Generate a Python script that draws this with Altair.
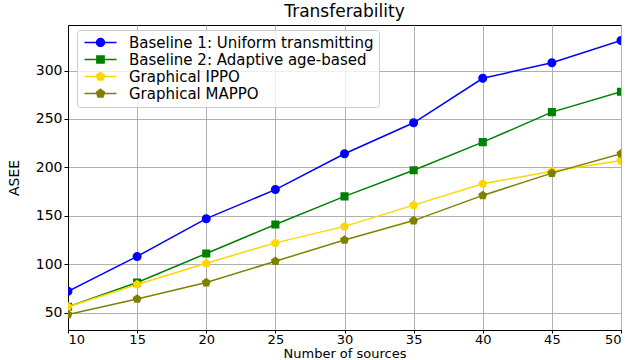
import altair as alt
import pandas as pd

sources = [10, 15, 20, 25, 30, 35, 40, 45, 50]
baseline1 = [72, 108, 147, 177, 214, 246, 292, 308, 331]
baseline2 = [56, 81, 111, 141, 170, 197, 226, 257, 278]
ippo = [56, 79, 101, 122, 139, 161, 183, 196, 207]
mappo = [48, 64, 81, 103, 125, 145, 171, 194, 214]

series_names = [
    "Baseline 1: Uniform transmitting",
    "Baseline 2: Adaptive age-based",
    "Graphical IPPO",
    "Graphical MAPPO",
]
series_values = [baseline1, baseline2, ippo, mappo]
colors = ["#0000ff", "#008000", "#ffd700", "#808000"]

circle = "M-4,0H4M1,0A1,1,0,1,1,-1,0A1,1,0,1,1,1,0Z"
square = "M-4,0H4M-0.9,-0.9H0.9V0.9H-0.9Z"
pentagon = "M-4,0H4M0,-1.05L1.0,-0.32L0.62,0.85L-0.62,0.85L-1.0,-0.32Z"
shapes = [circle, square, pentagon, pentagon]

rows = []
for name, vals in zip(series_names, series_values):
    for s, v in zip(sources, vals):
        rows.append({"sources": s, "ASEE": v, "series": name})
df = pd.DataFrame(rows)

FONT = "DejaVu Sans"

x = alt.X("sources:Q", title="Number of sources",
          scale=alt.Scale(domain=[10, 50], nice=False, zero=False),
          axis=alt.Axis(values=sources, format="d"))
y = alt.Y("ASEE:Q", title="ASEE",
          scale=alt.Scale(domain=[32, 347], nice=False, zero=False),
          axis=alt.Axis(values=[50, 100, 150, 200, 250, 300]))

color_scale = alt.Scale(domain=series_names, range=colors)

legend = alt.Legend(
    title=None,
    orient="none",
    legendX=9,
    legendY=5,
    fillColor="rgba(255,255,255,0.8)",
    strokeColor="#cccccc",
    cornerRadius=3,
    padding=5,
    symbolSize=64,
    symbolOffset=11,
    labelOffset=21,
    labelFontSize=15,
    labelFont=FONT,
    labelColor="black",
    labelLimit=400,
    rowPadding=1,
    symbolStrokeWidth=1.5,
    symbolOpacity=1,
)

lines = alt.Chart(df).mark_line(strokeWidth=1.5, clip=True).encode(
    x=x, y=y,
    color=alt.Color("series:N", scale=color_scale, legend=legend),
    order=alt.Order("sources:Q"),
)

points = alt.Chart(df).mark_point(filled=True, size=81, opacity=1, clip=True, strokeWidth=0).encode(
    x=x, y=y,
    color=alt.Color("series:N", scale=color_scale, legend=legend),
    stroke=alt.Stroke("series:N", scale=color_scale, legend=legend),
    shape=alt.Shape("series:N", scale=alt.Scale(domain=series_names, range=shapes), legend=legend),
)

chart = alt.layer(lines, points).properties(
    width=553,
    height=305,
    title=alt.Title("Transferability", fontSize=17, font=FONT, fontWeight="normal", color="black", offset=4),
    padding={"left": 68, "top": 25, "right": 10, "bottom": 30},
    autosize=alt.AutoSizeParams(type="none"),
).configure_view(
    stroke="black", strokeWidth=1
).configure_axis(
    labelFont=FONT, titleFont=FONT, labelFontSize=14, titleFontSize=14,
    labelColor="black", titleColor="black", titleFontWeight="normal",
    domainColor="black", tickColor="black", tickSize=4,
    gridColor="#b0b0b0", gridWidth=1, gridOpacity=1,
).configure_axisX(
    titlePadding=1, labelPadding=0, tickSize=3, labelFontSize=13, titleFontSize=13,
).configure_axisY(
    titlePadding=14, labelPadding=2,
)

chart.save("out.html", embed_options={"renderer": "svg", "actions": False})
